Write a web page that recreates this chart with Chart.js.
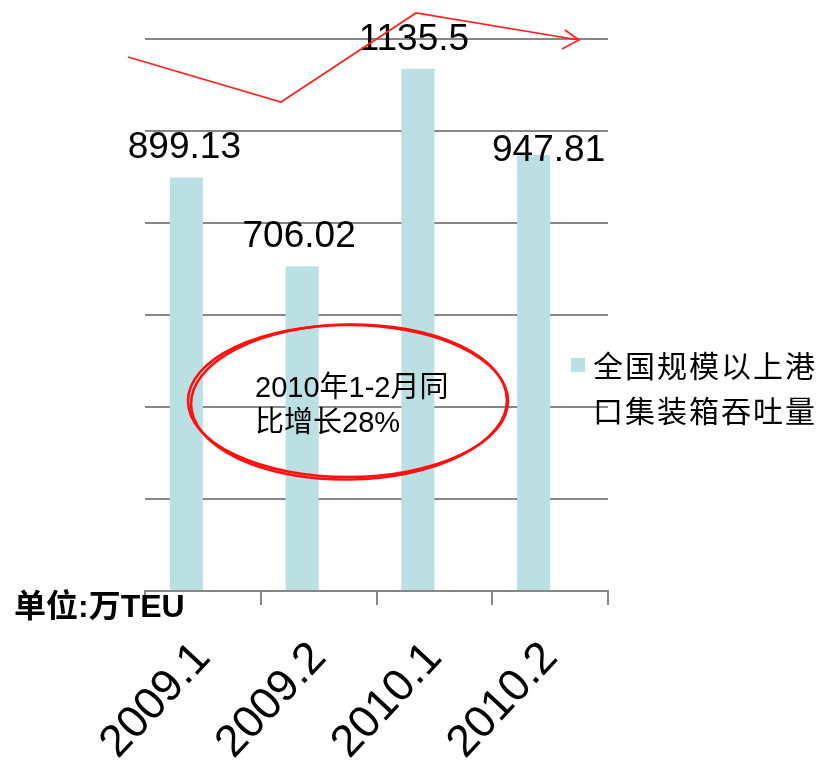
<!DOCTYPE html>
<html>
<head>
<meta charset="utf-8">
<script src="https://cdn.jsdelivr.net/npm/chart.js@4/dist/chart.umd.min.js"></script>
<style>
  html, body { margin: 0; padding: 0; background: #fff; }
  #wrap { width: 820px; height: 769px; }
</style>
</head>
<body>
<div id="wrap"><canvas id="chart" width="820" height="769"></canvas></div>
<script>
// data
const periods = ['2009.1', '2009.2', '2010.1', '2010.2'];
const throughput = [899.13, 706.02, 1135.5, 947.81];
const emptySeries = [null, null, null, null];
const seriesName = ['全国规模以上港', '口集装箱吞吐量'];
const noteLines = ['2010年1-2月同', '比增长28%'];
const unitText = '单位:万TEU';

const barColor = '#BBE0E3';
const gridColor = '#878787';

// label nudges (pixels), the last label sits over its bar in the original
const labelShift = [[-2, 0], [-3, 0], [-4, 0], [15, 25]];

// hand drawn red arrow and ellipse (canvas pixels)
const arrowPath = [[128, 57], [281, 102], [416, 13], [579, 40]];
const arrowHead = [[565, 30], [562, 49]];

const annotations = {
  id: 'annotations',
  afterDatasetsDraw(chart) {
    const ctx = chart.ctx;
    const meta = chart.getDatasetMeta(0);
    ctx.save();
    ctx.fillStyle = '#000';
    ctx.font = '37px "Liberation Sans", Arial, sans-serif';
    ctx.textAlign = 'center';
    ctx.textBaseline = 'alphabetic';
    meta.data.forEach((bar, i) => {
      const [dx, dy] = labelShift[i];
      ctx.fillText(String(throughput[i]), bar.x + dx, bar.y - 19 + dy);
    });
    ctx.restore();
  },
  afterDraw(chart) {
    const ctx = chart.ctx;
    ctx.save();

    // ellipse, drawn twice like a pen stroke
    ctx.strokeStyle = '#FF1010';
    ctx.lineWidth = 2.6;
    ctx.beginPath();
    ctx.ellipse(348, 401, 160, 76, 0, 0, Math.PI * 2);
    ctx.stroke();
    ctx.beginPath();
    ctx.ellipse(349, 402, 158, 77.5, -0.015, 0, Math.PI * 2);
    ctx.stroke();

    // note text
    ctx.fillStyle = '#000';
    ctx.font = '29px "Liberation Sans Narrow", "Liberation Sans", "Noto Sans CJK SC", sans-serif';
    ctx.textAlign = 'left';
    ctx.textBaseline = 'alphabetic';
    ctx.fillText(noteLines[0], 255, 397);
    ctx.fillText(noteLines[1], 255, 432);

    // arrow
    ctx.strokeStyle = '#FF2020';
    ctx.lineWidth = 1.7;
    ctx.beginPath();
    arrowPath.forEach(([x, y], i) => i ? ctx.lineTo(x, y) : ctx.moveTo(x, y));
    ctx.stroke();
    const tip = arrowPath[arrowPath.length - 1];
    ctx.beginPath();
    ctx.moveTo(arrowHead[0][0], arrowHead[0][1]);
    ctx.lineTo(tip[0], tip[1]);
    ctx.lineTo(arrowHead[1][0], arrowHead[1][1]);
    ctx.stroke();

    // legend
    ctx.fillStyle = barColor;
    ctx.fillRect(571, 358, 14, 14);
    ctx.fillStyle = '#000';
    ctx.font = '30px "Noto Sans CJK SC", sans-serif';
    ctx.letterSpacing = '2px';
    ctx.textBaseline = 'middle';
    ctx.fillText(seriesName[0], 593, 366);
    ctx.fillText(seriesName[1], 593, 411);
    ctx.letterSpacing = '0px';

    // unit
    ctx.font = 'bold 32px "Liberation Sans", "Noto Sans CJK SC", sans-serif';
    ctx.textBaseline = 'alphabetic';
    ctx.fillText(unitText, 14, 617);

    ctx.restore();
  }
};

new Chart(document.getElementById('chart'), {
  type: 'bar',
  data: {
    labels: periods,
    datasets: [
      {
        label: seriesName.join(''),
        data: throughput,
        backgroundColor: barColor,
        barPercentage: 1,
        categoryPercentage: 0.57
      },
      {
        label: '',
        data: emptySeries,
        backgroundColor: barColor,
        barPercentage: 1,
        categoryPercentage: 0.57
      }
    ]
  },
  options: {
    responsive: false,
    animation: false,
    layout: { padding: { left: 0, right: 212, top: 39, bottom: 0 } },
    plugins: {
      legend: { display: false },
      tooltip: { enabled: false }
    },
    scales: {
      x: {
        afterFit: s => { s.height = 178; },
        grid: {
          offset: true,
          drawOnChartArea: false,
          drawTicks: true,
          tickLength: 14,
          color: gridColor,
          lineWidth: 2
        },
        border: { display: true, color: gridColor, width: 2 },
        ticks: {
          autoSkip: false,
          minRotation: 47,
          maxRotation: 47,
          padding: 27,
          color: '#000',
          font: { family: '"Liberation Sans", Arial, sans-serif', size: 45 }
        }
      },
      y: {
        min: 0,
        max: 1200,
        afterFit: s => { s.width = 145; },
        ticks: { display: false, stepSize: 200 },
        border: { display: false },
        grid: { color: gridColor, lineWidth: 2, drawTicks: false }
      }
    }
  },
  plugins: [annotations]
});
</script>
</body>
</html>
